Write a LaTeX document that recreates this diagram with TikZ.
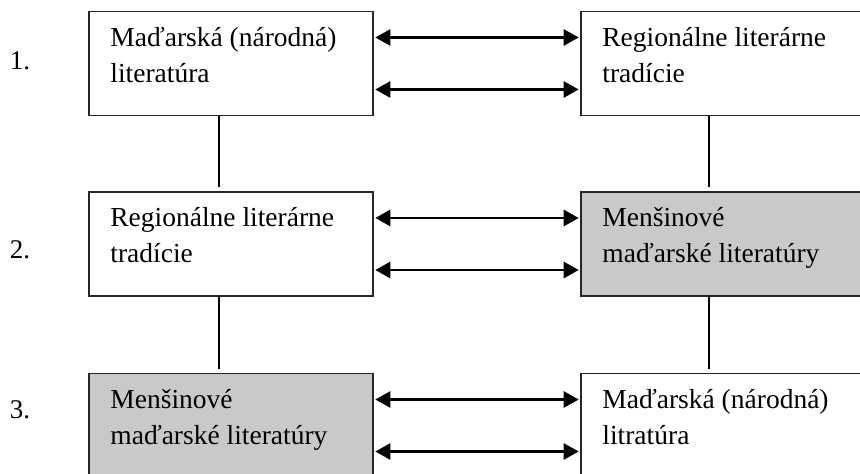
\documentclass[tikz,border=0pt]{standalone}
\usepackage{fontspec}
\setmainfont{Liberation Serif}
\usetikzlibrary{arrows.meta}
\definecolor{boxgray}{RGB}{200,201,203}

\begin{document}
\begin{tikzpicture}[x=1pt,y=1pt,
  box/.style={draw=black!85,line width=1.6pt,minimum width=284pt,minimum height=104pt,inner sep=0pt},
  shaded/.style={box,fill=boxgray},
  txt/.style={anchor=north west,align=left,inner sep=0pt,font=\fontsize{27.5}{36}\selectfont},
  num/.style={anchor=base,inner sep=0pt,font=\fontsize{27}{30}\selectfont},
  link/.style={line width=2.6pt,{Triangle[length=15pt,width=16pt]}-{Triangle[length=15pt,width=16pt]},shorten <=1.5pt,shorten >=1.5pt},
  rung/.style={line width=1.3pt}]
\useasboundingbox (0,0) rectangle (860,474);
\clip (0,0) rectangle (860,474);

%boxes
\node[box] (l1) at (231,410.5) {};
\node[box] (r1) at (723,410.5) {};
\node[box] (l2) at (231,230) {};
\node[shaded] (r2) at (723,230) {};
\node[shaded] (l3) at (231,48.5) {};
\node[box] (r3) at (723,48.5) {};

%texts
\node[txt] (l1t) at ([shift={(22,-16)}]l1.north west) {Maďarská (národná)\\literatúra};
\node[txt] (r1t) at ([shift={(22,-16)}]r1.north west) {Regionálne literárne\\tradície};
\node[txt] (l2t) at ([shift={(22,-16)}]l2.north west) {Regionálne literárne\\tradície};
\node[txt] (r2t) at ([shift={(22,-16)}]r2.north west) {Menšinové\\maďarské literatúry};
\node[txt] (l3t) at ([shift={(22,-16)}]l3.north west) {Menšinové\\maďarské literatúry};
\node[txt] (r3t) at ([shift={(22,-16)}]r3.north west) {Maďarská (národná)\\litratúra};

%levels
\node[num] (n1) at (20,404) {1.};
\node[num] (n2) at (20,215) {2.};
\node[num] (n3) at (20,55) {3.};

%arrows
\foreach \row in {1,2,3}{
  \draw[link] ([yshift=26]l\row.east) -- ([yshift=26]r\row.west);
  \draw[link] ([yshift=-26]l\row.east) -- ([yshift=-26]r\row.west);
}

%vertical lines
\draw[rung] ([xshift=-12]l1.south) -- ([xshift=-12,yshift=4]l2.north);
\draw[rung] ([xshift=-12]l2.south) -- ([xshift=-12,yshift=4]l3.north);
\draw[rung] ([xshift=-14]r1.south) -- ([xshift=-14,yshift=4]r2.north);
\draw[rung] ([xshift=-14]r2.south) -- ([xshift=-14,yshift=4]r3.north);
\end{tikzpicture}
\end{document}
